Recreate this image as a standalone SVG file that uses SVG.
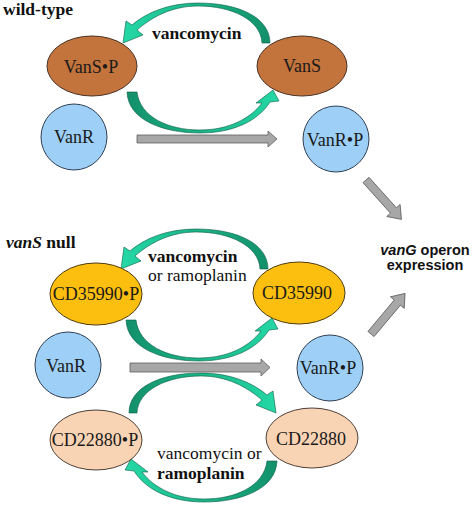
<svg xmlns="http://www.w3.org/2000/svg" width="474" height="505" viewBox="0 0 474 505">
<defs>
<linearGradient id="gR" x1="1" y1="0" x2="0" y2="0"><stop offset="0" stop-color="#12906a"/><stop offset="1" stop-color="#24d8a6"/></linearGradient>
<linearGradient id="gL" x1="0" y1="0" x2="1" y2="0"><stop offset="0" stop-color="#12906a"/><stop offset="1" stop-color="#24d8a6"/></linearGradient>
<path id="arcTop" d="M270,43 C270,18 240,3 198,3 C170,3 147,12 132,25 L126,21 L123,43 L143,35 L137,30 C152,17 172,6 198,6 C232,6 261,20 262,43 Z"/>
<path id="arcBot" d="M127,92 C128,120 163,133 200,133 C233,133 258,121 270,102 L279,101 L273,90 L256,103 L262,103 C250,119 228,130 200,130 C168,130 140,117 137,92 Z"/>
<polygon id="diag" points="0,-4 41,-4 41,-9 53,0 41,9 41,4 0,4"/>
</defs>
<style>
.brown{fill:#c3733c;stroke:#4a3326;stroke-width:1}
.blue{fill:#9dcff7;stroke:#2f3f52;stroke-width:1}
.gold{fill:#fdbf0f;stroke:#4d3d10;stroke-width:1}
.peach{fill:#f8d3b4;stroke:#4d4036;stroke-width:1}
.gray{fill:#a7a7a7;stroke:#5e5e5e;stroke-width:0.8}
.gt{stroke:#0c5d45;stroke-width:0.6}
.lbl{font-family:'Liberation Serif','Times New Roman',serif;font-size:18px;fill:#1a1a1a;text-anchor:middle}
.tb{font-family:'Liberation Serif','Times New Roman',serif;font-size:17.5px;fill:#111;font-weight:bold}
.tr{font-family:'Liberation Serif','Times New Roman',serif;font-size:17.5px;fill:#111}
.ss{font-family:'Liberation Sans',Arial,sans-serif;font-size:14.5px;font-weight:bold;fill:#111;text-anchor:middle}
</style>
<rect width="474" height="505" fill="#ffffff"/>
<g id="connectors">
<use href="#arcTop" fill="url(#gR)" class="gt"/>
<use href="#arcBot" fill="url(#gL)" class="gt"/>
<use href="#arcTop" fill="url(#gR)" class="gt" transform="translate(-2,226)"/>
<use href="#arcBot" fill="url(#gL)" class="gt" transform="translate(-1,228)"/>
<use href="#arcTop" fill="url(#gR)" class="gt" transform="translate(399,370) scale(-1,1)"/>
<use href="#arcBot" fill="url(#gL)" class="gt" transform="translate(404,369) scale(-1,1)"/>
<polygon class="gray" points="137,135 268,135 268,131 277,139 268,147 268,143 137,143"/>
<polygon class="gray" points="130,363 261,363 261,359 270,367.5 261,376 261,372 130,372"/>
<use href="#diag" class="gray" transform="translate(366,180) rotate(48)"/>
<use href="#diag" class="gray" transform="translate(371,334) rotate(-50)"/>
</g>
<g id="labels">
<text class="tb" x="3" y="15">wild-type</text>
<text class="tb" x="152" y="39">vancomycin</text>
<text class="tb" x="6" y="248"><tspan font-style="italic">vanS</tspan> null</text>
<text class="tb" x="148" y="262">vancomycin</text>
<text class="tr" x="148" y="281">or ramoplanin</text>
<text class="tr" x="157" y="459">vancomycin or</text>
<text class="tb" x="157" y="479">ramoplanin</text>
<text class="ss" x="425" y="255"><tspan font-style="italic">vanG</tspan> operon</text>
<text class="ss" x="425" y="270">expression</text>
</g>
<g id="VanS-P"><ellipse class="brown" cx="92" cy="66" rx="45" ry="30"/><text class="lbl" x="91" y="73">VanS•P</text></g>
<g id="VanS"><ellipse class="brown" cx="302" cy="66" rx="45" ry="30"/><text class="lbl" x="302" y="72">VanS</text></g>
<g id="VanR-1"><circle class="blue" cx="74" cy="137" r="33"/><text class="lbl" x="74" y="143">VanR</text></g>
<g id="VanR-P-1"><circle class="blue" cx="336" cy="139" r="33"/><text class="lbl" x="335" y="146">VanR•P</text></g>
<g id="CD35990-P"><ellipse class="gold" cx="96" cy="294" rx="46" ry="31"/><text class="lbl" x="96" y="300">CD35990•P</text></g>
<g id="CD35990"><ellipse class="gold" cx="299" cy="293" rx="46" ry="31"/><text class="lbl" x="297" y="299">CD35990</text></g>
<g id="VanR-2"><circle class="blue" cx="68" cy="365" r="33"/><text class="lbl" x="66" y="372">VanR</text></g>
<g id="VanR-P-2"><circle class="blue" cx="330" cy="368" r="33"/><text class="lbl" x="328" y="374">VanR•P</text></g>
<g id="CD22880-P"><ellipse class="peach" cx="96" cy="440" rx="46" ry="30"/><text class="lbl" x="95" y="446">CD22880•P</text></g>
<g id="CD22880"><ellipse class="peach" cx="312" cy="438" rx="46" ry="30"/><text class="lbl" x="311" y="445">CD22880</text></g>
</svg>
